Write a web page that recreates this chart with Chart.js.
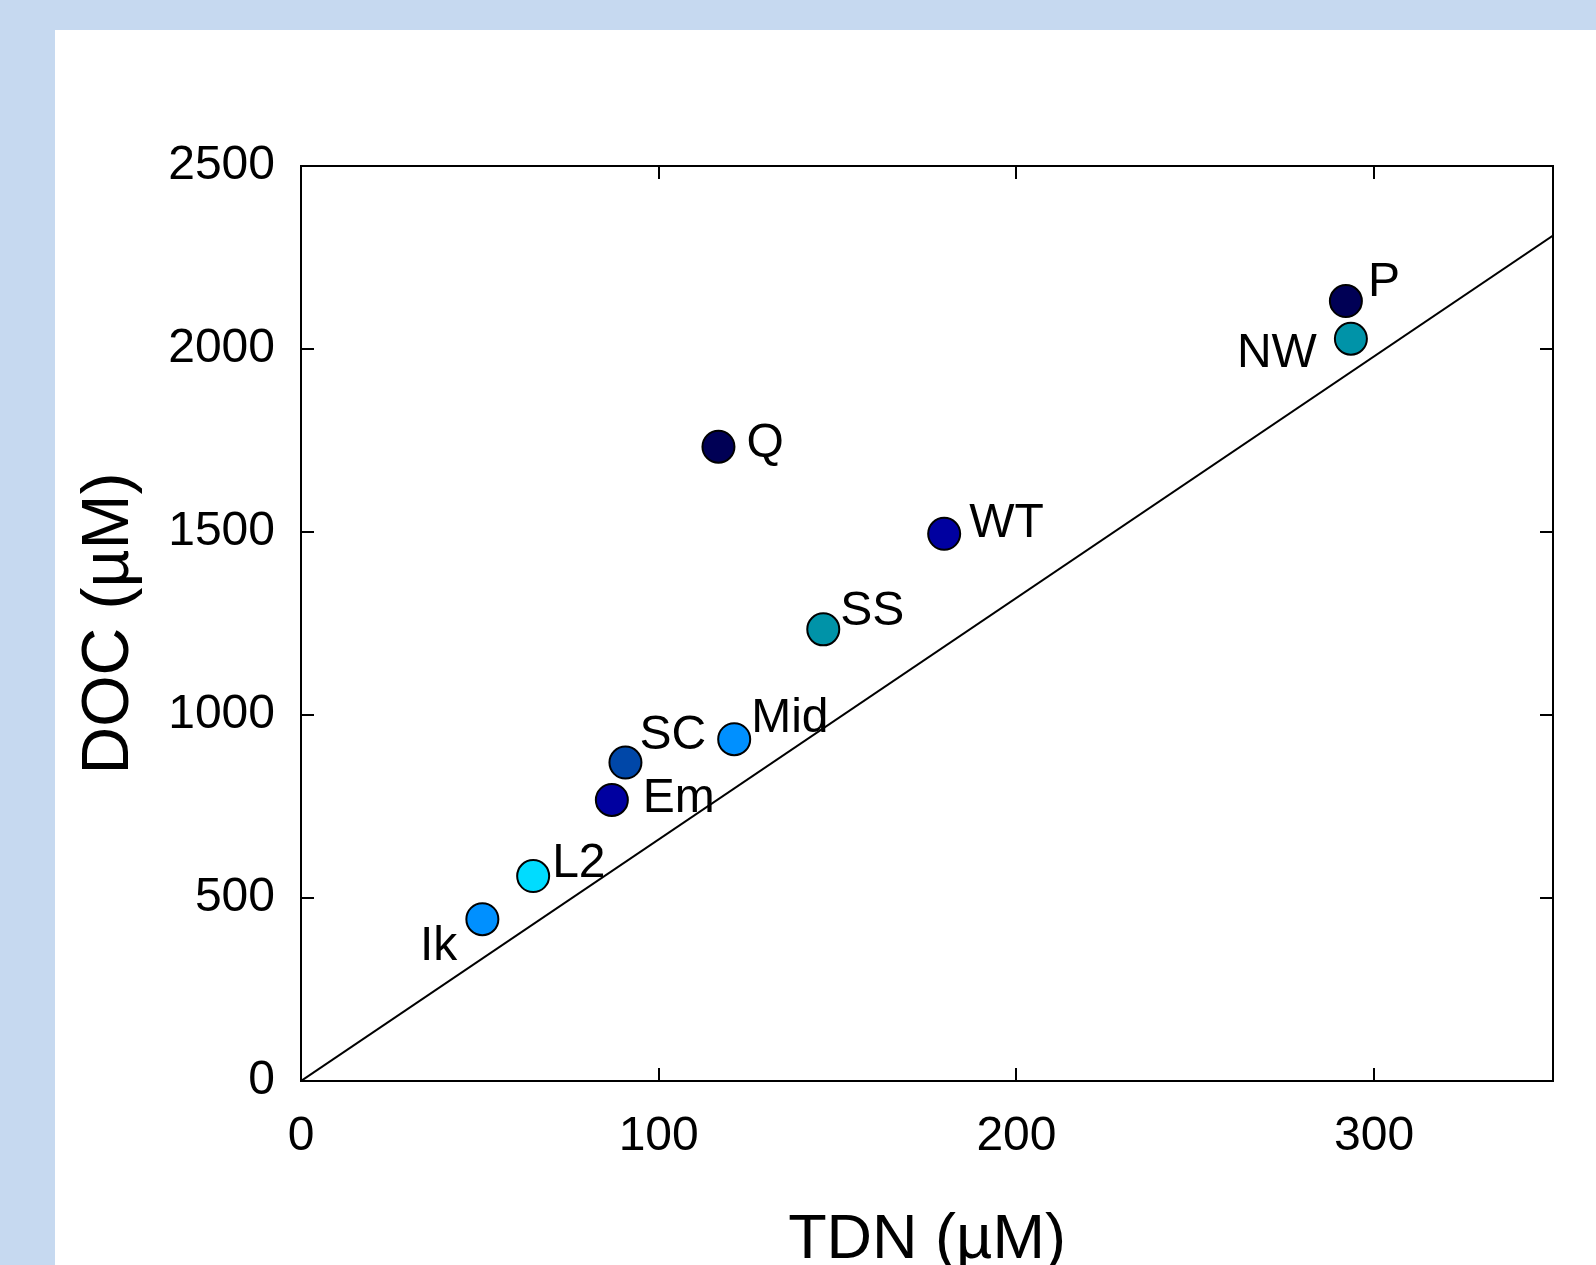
<!DOCTYPE html>
<html>
<head>
<meta charset="utf-8">
<script src="https://cdn.jsdelivr.net/npm/chart.js@4/dist/chart.umd.min.js"></script>
<style>
  html, body { margin: 0; padding: 0; background: #c6d9f0; overflow: hidden; width: 1596px; height: 1265px; }
  #panel { position: absolute; left: 55px; top: 30px; width: 1541px; height: 1300px; background: #ffffff; }
</style>
</head>
<body>
<div id="panel"><canvas id="docChart"></canvas></div>
<script>
// sites, TDN (uM) and DOC (uM)
var sites = ['Ik', 'L2', 'Em', 'SC', 'Mid', 'Q', 'SS', 'WT', 'NW', 'P'];
var tdn = [50.7, 64.9, 86.9, 90.7, 121.1, 116.7, 146.0, 179.8, 293.5, 292.1];
var doc = [442, 560, 768, 870, 934, 1733, 1234, 1495, 2028, 2131];
var siteColors = ['#0090ff', '#00dcff', '#0000a0', '#0047a8', '#0090ff', '#000055', '#0093a8', '#0000a0', '#0093a8', '#000055'];

// reference line (C:N ratio line)
var refX = [0, 350];
var refY = [0, 2310];

var xTicks = [0, 100, 200, 300];
var yTicks = [0, 500, 1000, 1500, 2000, 2500];

// where each site label sits relative to its dot: [dx, dy, align]
var labelOffsets = {
  'Ik': [-25, 41, 'right'],
  'L2': [19, 1, 'left'],
  'Em': [31, 12, 'left'],
  'SC': [14, -14, 'left'],
  'Mid': [17, -7, 'left'],
  'Q': [28, 10, 'left'],
  'SS': [17, -4, 'left'],
  'WT': [25, 3, 'left'],
  'NW': [-34, 28, 'right'],
  'P': [22, -5, 'left']
};

var fontFam = '"Liberation Sans", Arial, sans-serif';

var points = [];
for (var i = 0; i < sites.length; i++) {
  points.push({x: tdn[i], y: doc[i]});
}
var refLine = [];
for (var j = 0; j < refX.length; j++) {
  refLine.push({x: refX[j], y: refY[j]});
}

var siteLabels = {
  id: 'siteLabels',
  afterDatasetsDraw: function(chart) {
    var ctx = chart.ctx;
    var xs = chart.scales.x, ys = chart.scales.y;
    ctx.save();
    ctx.font = '48px ' + fontFam;
    ctx.fillStyle = '#000';
    ctx.textBaseline = 'alphabetic';
    for (var i = 0; i < sites.length; i++) {
      var off = labelOffsets[sites[i]];
      ctx.textAlign = off[2];
      ctx.fillText(sites[i], xs.getPixelForValue(tdn[i]) + off[0], ys.getPixelForValue(doc[i]) + off[1]);
    }
    ctx.restore();
  }
};

function axisGrid() {
  return {drawOnChartArea: false, drawTicks: true, tickLength: -13, color: '#000', lineWidth: 2};
}

function plainNumber(v) {
  return String(v);
}

var ctx = document.getElementById('docChart');
var myChart = new Chart(ctx, {
  type: 'scatter',
  data: {
    datasets: [{
      label: 'sites',
      data: points,
      backgroundColor: siteColors,
      borderColor: '#000',
      borderWidth: 2,
      pointRadius: 16,
      pointHoverRadius: 16,
      order: 0
    }, {
      label: 'ref',
      data: refLine,
      showLine: true,
      borderColor: '#000',
      borderWidth: 2,
      pointRadius: 0,
      fill: false,
      order: 1
    }]
  },
  options: {
    responsive: true,
    maintainAspectRatio: false,
    animation: false,
    layout: {padding: {top: 136, right: 43, left: 0, bottom: 0}},
    plugins: {legend: {display: false}, tooltip: {enabled: false}},
    scales: {
      x: {
        type: 'linear', position: 'bottom', min: 0, max: 350,
        afterFit: function(s) { s.height = 249; },
        afterBuildTicks: function(s) { s.ticks = xTicks.map(function(v) { return {value: v}; }); },
        grid: axisGrid(),
        border: {color: '#000', width: 2},
        ticks: {padding: 40, color: '#000', font: {family: fontFam, size: 48}, callback: plainNumber},
        title: {display: true, text: 'TDN (µM)', color: '#000', font: {family: fontFam, size: 63}, padding: {top: 0, bottom: 52}}
      },
      y: {
        type: 'linear', position: 'left', min: 0, max: 2500,
        afterFit: function(s) { s.width = 246; },
        afterBuildTicks: function(s) { s.ticks = yTicks.map(function(v) { return {value: v}; }); },
        grid: axisGrid(),
        border: {color: '#000', width: 2},
        ticks: {padding: 39, color: '#000', font: {family: fontFam, size: 48}, callback: plainNumber},
        title: {display: true, text: 'DOC (µM)', color: '#000', font: {family: fontFam, size: 66}, padding: {top: 15, bottom: 0}}
      },
      x2: {
        type: 'linear', position: 'top', min: 0, max: 350,
        afterFit: function(s) { s.height = 0; },
        afterBuildTicks: function(s) { s.ticks = xTicks.map(function(v) { return {value: v}; }); },
        grid: axisGrid(),
        border: {color: '#000', width: 2},
        ticks: {display: false}
      },
      y2: {
        type: 'linear', position: 'right', min: 0, max: 2500,
        afterFit: function(s) { s.width = 0; },
        afterBuildTicks: function(s) { s.ticks = yTicks.map(function(v) { return {value: v}; }); },
        grid: axisGrid(),
        border: {color: '#000', width: 2},
        ticks: {display: false}
      }
    }
  },
  plugins: [siteLabels]
});
</script>
</body>
</html>
